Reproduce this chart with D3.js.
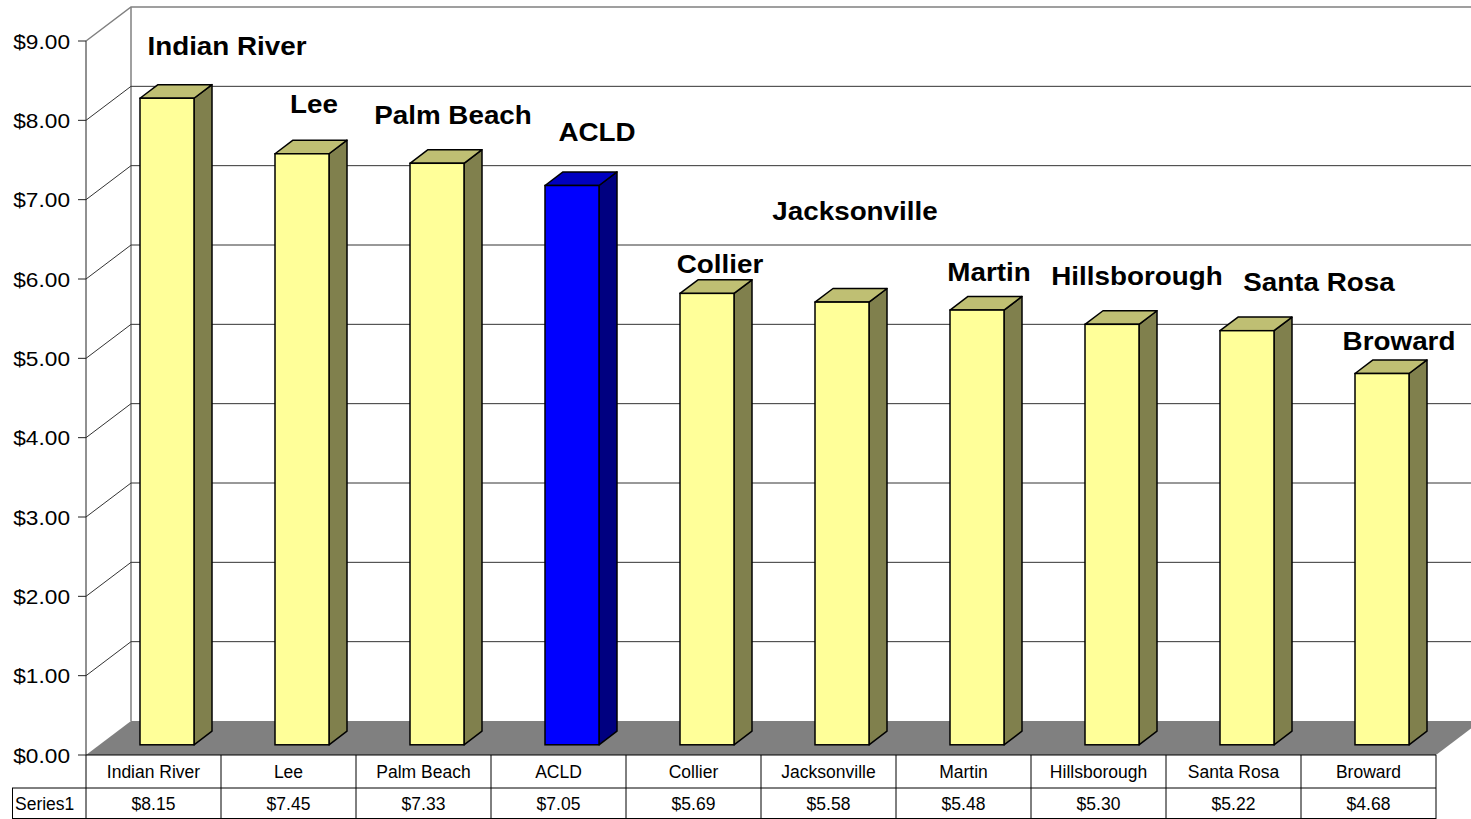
<!DOCTYPE html>
<html>
<head>
<meta charset="utf-8">
<script src="https://cdn.jsdelivr.net/npm/d3@7"></script>
<style>
  body { margin: 0; background: #fff; }
  text { font-family: Arial, "Liberation Sans", sans-serif; }
</style>
</head>
<body>
<div id="chart"></div>
<script>
// data
var counties = ["Indian River", "Lee", "Palm Beach", "ACLD", "Collier", "Jacksonville",
                "Martin", "Hillsborough", "Santa Rosa", "Broward"];
var costs = [8.15, 7.45, 7.33, 7.05, 5.69, 5.58, 5.48, 5.30, 5.22, 4.68];
var highlight = "ACLD";
var yTicks = [0, 1, 2, 3, 4, 5, 6, 7, 8, 9];
var seriesName = "Series1";

// where the bold name labels sit: px from bar centre, and height in $ units
var labelDx = [60, 12, 16, 25, 13, 13, 12, 25, 72, 17];
var labelAt = [8.82, 8.09, 7.96, 7.74, 6.08, 6.75, 5.98, 5.93, 5.85, 5.10];

var W = 1471, H = 819;
var left = 86, right = 1436, floorY = 755, topY = 41;
var depthX = 45, depthY = -34;   // full depth of the 3d box

var svg = d3.select("#chart").append("svg")
    .attr("width", W).attr("height", H);

var x = d3.scaleBand().domain(counties).range([left, right]);
var y = d3.scaleLinear().domain([0, 9]).range([floorY, topY]);
var fmt = d3.format("$.2f");

// back wall + side wall
svg.append("path")
    .attr("d", "M" + left + "," + y(9) + "L" + (left + depthX) + "," + (y(9) + depthY) +
               "L" + W + "," + (y(9) + depthY))
    .attr("fill", "none").attr("stroke", "#808080").attr("stroke-width", 1.5);
svg.append("line")
    .attr("x1", left + depthX).attr("x2", left + depthX)
    .attr("y1", y(9) + depthY).attr("y2", floorY + depthY)
    .attr("stroke", "#808080").attr("stroke-width", 1.5);

// gridlines
yTicks.filter(function(d) { return d > 0 && d < 9; }).forEach(function(t) {
  svg.append("path")
      .attr("d", "M" + left + "," + y(t) + "L" + (left + depthX) + "," + (y(t) + depthY) +
                 "L" + W + "," + (y(t) + depthY))
      .attr("fill", "none").attr("stroke", "#333").attr("stroke-width", 1);
});

// floor
svg.append("path")
    .attr("d", "M" + left + "," + floorY + "L" + right + "," + floorY +
               "L" + (right + depthX) + "," + (floorY + depthY) +
               "L" + (left + depthX) + "," + (floorY + depthY) + "Z")
    .attr("fill", "#808080");

// y axis
svg.append("line")
    .attr("x1", left).attr("x2", left).attr("y1", y(9)).attr("y2", floorY)
    .attr("stroke", "#222").attr("stroke-width", 1);
var ticks = svg.append("g").selectAll("g").data(yTicks).join("g");
ticks.append("line")
    .attr("x1", left - 8).attr("x2", left)
    .attr("y1", function(d) { return y(d); }).attr("y2", function(d) { return y(d); })
    .attr("stroke", "#222");
ticks.append("text")
    .attr("transform", function(d) { return "translate(70," + (y(d) + 7.5) + ") scale(1.08,1)"; })
    .attr("text-anchor", "end")
    .attr("font-size", 21)
    .text(function(d) { return fmt(d); });

// bars
var bw = x.bandwidth() * 0.4, bd = 0.4, bf = 0.3;
var bars = svg.append("g").selectAll("g")
    .data(counties.map(function(c, i) { return { name: c, v: costs[i], i: i }; }))
    .join("g");

bars.each(function(d) {
  var g = d3.select(this);
  var x0 = x(d.name) + (x.bandwidth() - bw) / 2 + bf * depthX;
  var yb = floorY + bf * depthY;
  var yt = y(d.v) + bf * depthY;
  var ox = bd * depthX, oy = bd * depthY;
  var blue = d.name === highlight;
  var cFront = blue ? "#0000ff" : "#ffff99";
  var cTop = blue ? "#0000c0" : "#bfbf73";
  var cSide = blue ? "#000080" : "#80804d";
  g.append("path")
      .attr("d", "M" + (x0 + bw) + "," + yt + "L" + (x0 + bw + ox) + "," + (yt + oy) +
                 "L" + (x0 + bw + ox) + "," + (yb + oy) + "L" + (x0 + bw) + "," + yb + "Z")
      .attr("fill", cSide).attr("stroke", "#000").attr("stroke-width", 1.5)
      .attr("stroke-linejoin", "round");
  g.append("path")
      .attr("d", "M" + x0 + "," + yt + "L" + (x0 + bw) + "," + yt +
                 "L" + (x0 + bw + ox) + "," + (yt + oy) + "L" + (x0 + ox) + "," + (yt + oy) + "Z")
      .attr("fill", cTop).attr("stroke", "#000").attr("stroke-width", 1.5)
      .attr("stroke-linejoin", "round");
  g.append("rect")
      .attr("x", x0).attr("y", yt).attr("width", bw).attr("height", yb - yt)
      .attr("fill", cFront).attr("stroke", "#000").attr("stroke-width", 1.5);
});

// bold name labels
bars.append("text")
    .attr("transform", function(d) {
      var cx = x(d.name) + x.bandwidth() / 2 + bf * depthX + labelDx[d.i];
      return "translate(" + cx + "," + y(labelAt[d.i]) + ") scale(1.07,1)";
    })
    .attr("text-anchor", "middle")
    .attr("font-size", 26).attr("font-weight", "bold")
    .text(function(d) { return d.name; });

// data table
var rowH = 33, row2 = floorY + rowH, bottom = H - 0.5;
var tbl = svg.append("g").attr("stroke", "#000").attr("stroke-width", 1);
tbl.append("line").attr("x1", 12).attr("x2", right).attr("y1", row2).attr("y2", row2);
tbl.append("line").attr("x1", 12).attr("x2", right).attr("y1", bottom).attr("y2", bottom);
tbl.append("line").attr("x1", 12.5).attr("x2", 12.5).attr("y1", row2).attr("y2", H);
tbl.selectAll("line.col").data(counties.concat(["_end"])).join("line")
    .attr("class", "col")
    .attr("x1", function(d) { return d === "_end" ? right : x(d); })
    .attr("x2", function(d) { return d === "_end" ? right : x(d); })
    .attr("y1", floorY).attr("y2", H);
tbl.append("line").attr("x1", left).attr("x2", right).attr("y1", floorY).attr("y2", floorY);

svg.append("g").selectAll("text").data(counties).join("text")
    .attr("x", function(d) { return x(d) + x.bandwidth() / 2; })
    .attr("y", floorY + 23)
    .attr("text-anchor", "middle").attr("font-size", 17.5)
    .text(function(d) { return d; });
svg.append("g").selectAll("text").data(costs).join("text")
    .attr("x", function(d, i) { return x(counties[i]) + x.bandwidth() / 2; })
    .attr("y", row2 + 22)
    .attr("text-anchor", "middle").attr("font-size", 17.5)
    .text(function(d) { return fmt(d); });
svg.append("text")
    .attr("x", 15).attr("y", row2 + 22).attr("font-size", 17.5)
    .text(seriesName);
</script>
</body>
</html>
